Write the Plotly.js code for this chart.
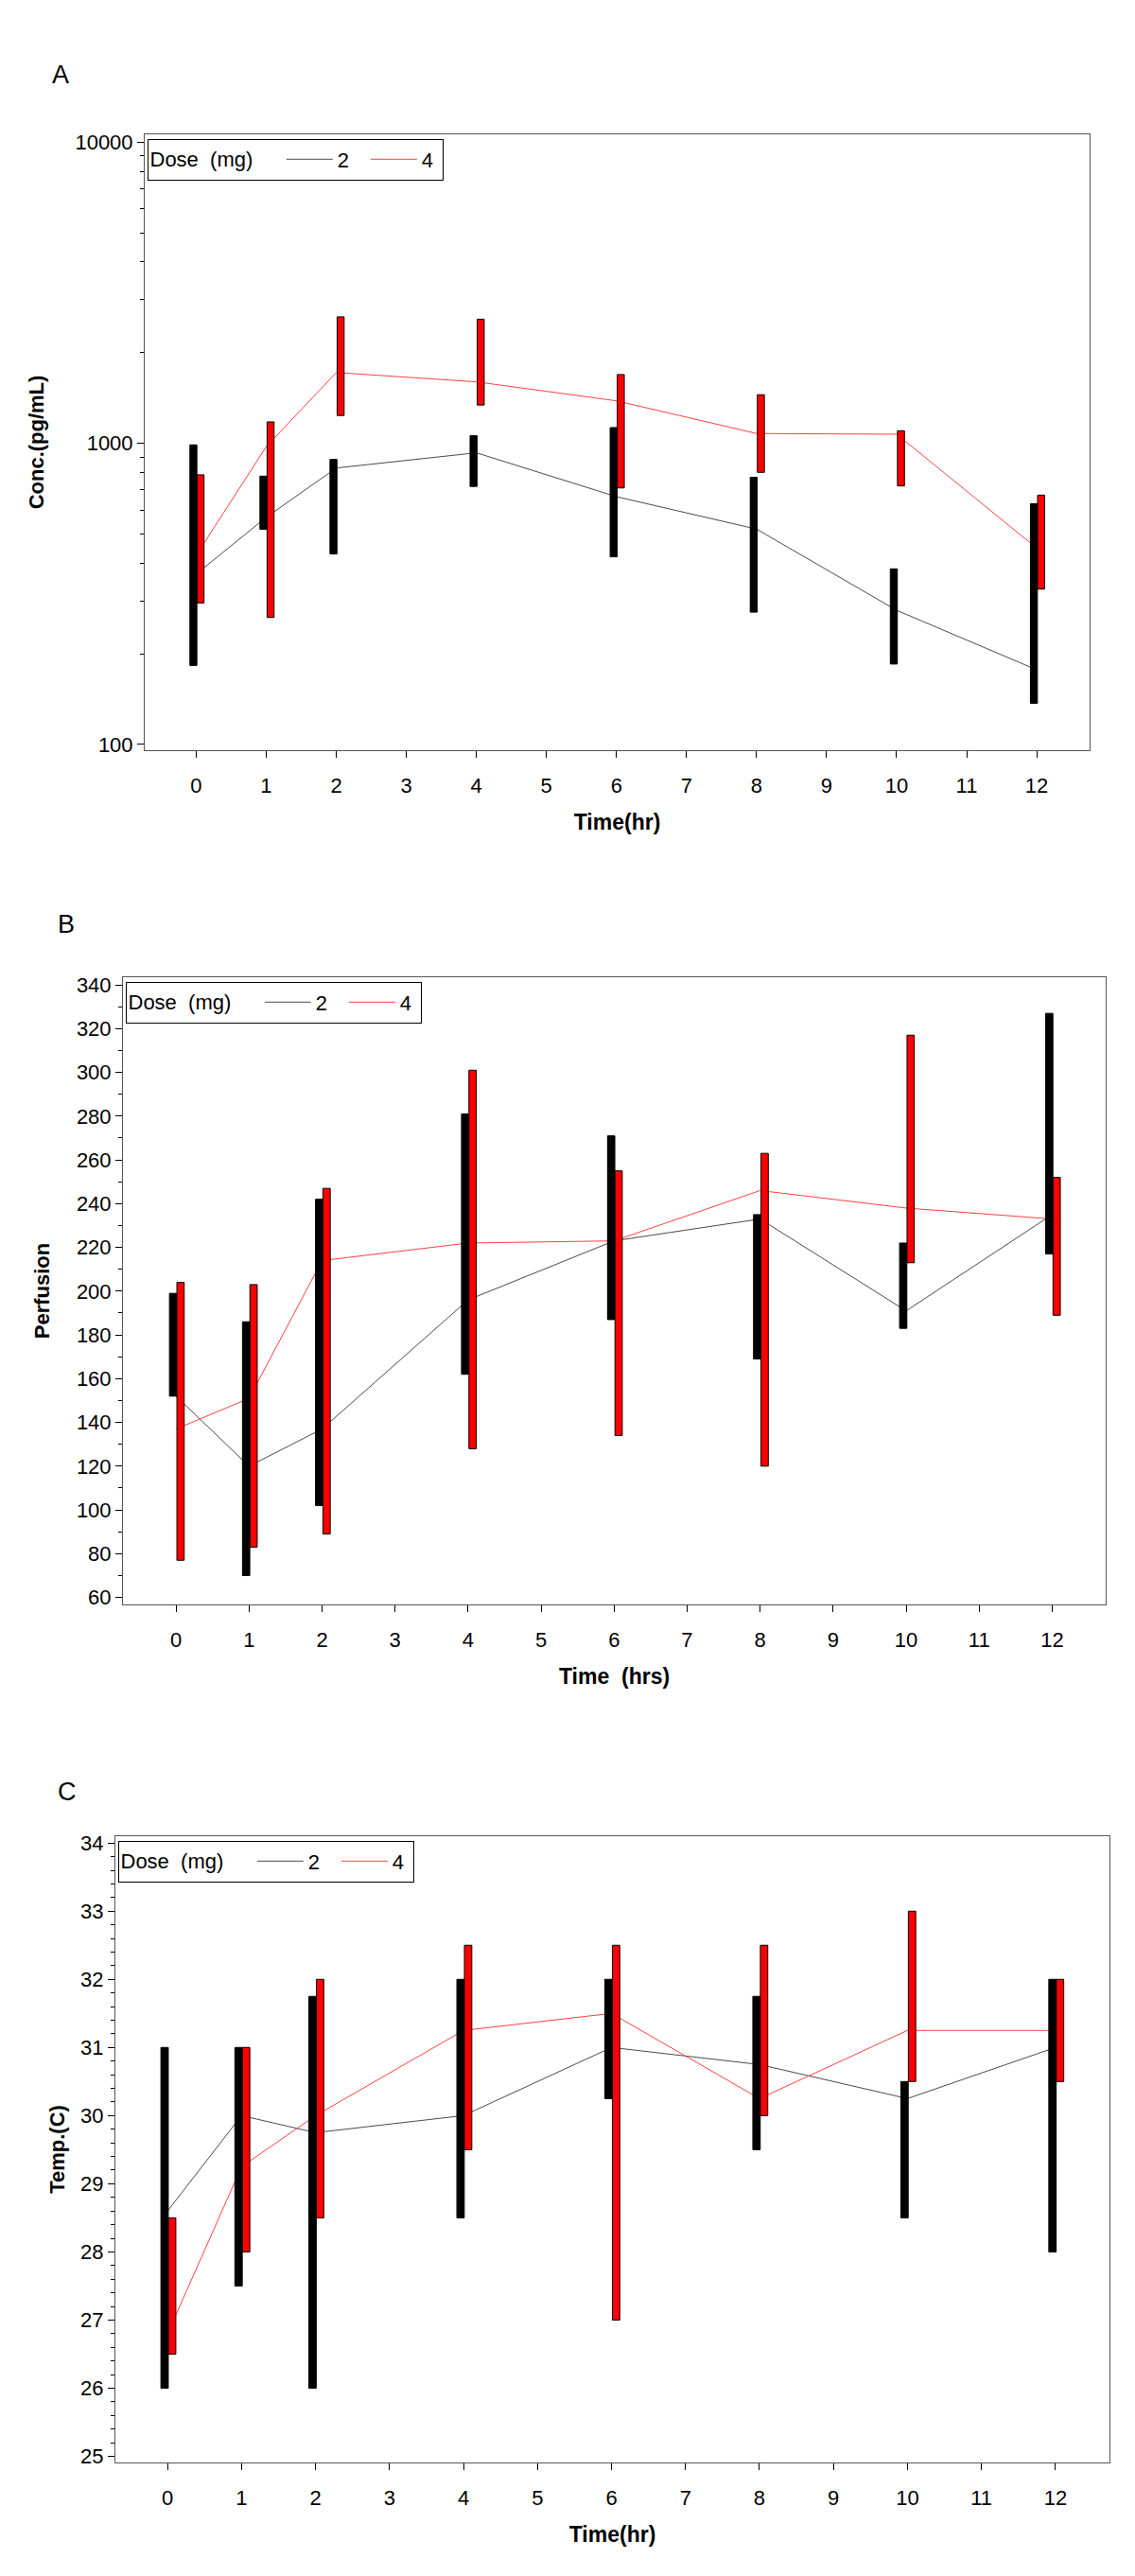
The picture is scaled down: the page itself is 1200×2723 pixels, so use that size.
<!DOCTYPE html>
<html>
<head>
<meta charset="utf-8">
<script src="https://cdn.plot.ly/plotly-3.0.1.min.js"></script>
<style>html,body{margin:0;padding:0;background:#fff;}#chart{width:1200px;height:2723px;}</style>
</head>
<body>
<div id="chart"></div>
<script>
// ---------- data ----------
const times = [0, 1, 2, 4, 6, 8, 10, 12];
const timeTicks = [0, 1, 2, 3, 4, 5, 6, 7, 8, 9, 10, 11, 12];
const doseNames = ['2', '4'];
const legendTitle = 'Dose\u00a0\u00a0(mg)';

// Panel A: concentration (pg/mL), log scale
const concMean2 = [368, 568, 828, 930, 665, 519, 279, 177];
const concLow2  = [183, 518, 429, 719, 420, 275, 185, 137];
const concHigh2 = [988, 778, 884, 1060, 1128, 771, 383, 630];
const concMean4 = [425, 975, 1718, 1600, 1384, 1078, 1072, 449];
const concLow4  = [295, 264, 1237, 1340, 711, 801, 722, 328];
const concHigh4 = [786, 1178, 2630, 2583, 1692, 1450, 1101, 673];
const concTickVals = [100, 1000, 10000];
const concTickText = ['100', '1000', '10000'];

// Panel B: perfusion
const perfMean2 = [152, 120, 137, 196, 223, 233, 191, 235];
const perfLow2  = [152, 70, 102, 162, 187, 169, 183, 217];
const perfHigh2 = [199, 186, 242, 281, 271, 235, 222, 327];
const perfMean4 = [137, 151, 214, 222, 223, 246, 238, 233];
const perfLow4  = [77, 83, 89, 128, 134, 120, 213, 189];
const perfHigh4 = [204, 203, 247, 301, 255, 263, 317, 252];

// Panel C: temperature (C)
const tempMean2 = [28.6, 30.0, 29.75, 30.0, 31.0, 30.75, 30.25, 31.0];
const tempLow2  = [26.0, 27.5, 26.0, 28.5, 30.25, 29.5, 28.5, 28.0];
const tempHigh2 = [31.0, 31.0, 31.75, 32.0, 32.0, 31.75, 30.5, 32.0];
const tempMean4 = [26.8, 29.25, 30.0, 31.25, 31.5, 30.25, 31.25, 31.25];
const tempLow4  = [26.5, 28.0, 28.5, 29.5, 27.0, 30.0, 30.5, 30.5];
const tempHigh4 = [28.5, 31.0, 32.0, 32.5, 32.5, 32.5, 33.0, 32.0];

// ---------- styling ----------
const FONT = 'Liberation Sans, Arial, Helvetica, sans-serif';
const H = 2723, W = 1200;
const COL2 = '#000000', COL4 = '#ff0000';
const LINE2 = '#4a4a4a', LINE4 = '#ff4040';

function span(a, b) { return b.map((v, i) => v - a[i]); }

function panelTraces(n, m2, lo2, hi2, m4, lo4, hi4) {
  const ax = n === 1 ? '' : String(n);
  const ov = String(n + 3);
  const leg = n === 1 ? 'legend' : 'legend' + n;
  return [
    { type: 'scatter', mode: 'lines', x: times, y: m2, name: doseNames[0],
      xaxis: 'x' + ax, yaxis: 'y' + ax, legend: leg,
      line: { color: LINE2, width: 1 } },
    { type: 'scatter', mode: 'lines', x: times, y: m4, name: doseNames[1],
      xaxis: 'x' + ax, yaxis: 'y' + ax, legend: leg, legendwidth: 16,
      line: { color: LINE4, width: 1 } },
    { type: 'bar', x: times, base: lo2, y: span(lo2, hi2), name: doseNames[0],
      xaxis: 'x' + ov, yaxis: 'y' + ov, showlegend: false,
      offset: -0.09, width: 0.1,
      marker: { color: COL2, line: { color: '#000', width: 1 } } },
    { type: 'bar', x: times, base: lo4, y: span(lo4, hi4), name: doseNames[1],
      xaxis: 'x' + ov, yaxis: 'y' + ov, showlegend: false,
      offset: 0.012, width: 0.1,
      marker: { color: COL4, line: { color: '#000', width: 1 } } }
  ];
}

const data = [].concat(
  panelTraces(1, concMean2, concLow2, concHigh2, concMean4, concLow4, concHigh4),
  panelTraces(2, perfMean2, perfLow2, perfHigh2, perfMean4, perfLow4, perfHigh4),
  panelTraces(3, tempMean2, tempLow2, tempHigh2, tempMean4, tempLow4, tempHigh4)
);

// panel geometry in pixels: [left, right, top, bottom]
const boxes = {
  1: [153, 1152, 142, 793],
  2: [130, 1169, 1033, 1696],
  3: [122, 1173, 1941, 2603]
};
const xRanges = { 1: [-0.735, 12.755], 2: [-0.727, 12.733], 3: [-0.705, 12.73] };
const yRanges = { 1: [1.981, 4.026], 2: [56.8, 343.5], 3: [24.91, 34.1] };
const xTitles = { 1: 'Time(hr)', 2: 'Time\u00a0\u00a0(hrs)', 3: 'Time(hr)' };
const yTitles = { 1: 'Conc.(pg/mL)', 2: 'Perfusion', 3: 'Temp.(C)' };
const yStandoff = { 1: 26, 2: 22, 3: 10 };

const logMinor = [];
[100, 1000].forEach(d => { for (let k = 2; k <= 9; k++) logMinor.push(k * d); });

const layout = {
  width: W, height: H,
  margin: { l: 0, r: 0, t: 0, b: 0, pad: 0 },
  paper_bgcolor: '#fff', plot_bgcolor: '#fff',
  font: { family: FONT, color: '#000', size: 22 },
  barmode: 'overlay',
  hovermode: false,
  annotations: [
    { text: 'A', x: 63.8 / W, y: 1 - 78.5 / H },
    { text: 'B', x: 70 / W, y: 1 - 976.7 / H },
    { text: 'C', x: 70.5 / W, y: 1 - 1894 / H }
  ].map(a => Object.assign(a, { xref: 'paper', yref: 'paper', showarrow: false,
      xanchor: 'center', yanchor: 'middle', font: { size: 27, family: FONT, color: '#000' } }))
};

[1, 2, 3].forEach(n => {
  const b = boxes[n];
  const ax = n === 1 ? '' : String(n);
  const ov = String(n + 3);
  const xd = [b[0] / W, b[1] / W];
  const yd = [1 - b[3] / H, 1 - b[2] / H];
  layout['xaxis' + ax] = {
    domain: xd, range: xRanges[n], anchor: 'y' + ax,
    tickmode: 'array', tickvals: timeTicks, ticktext: timeTicks.map(String),
    ticks: 'outside', ticklen: 7, tickwidth: 1, tickcolor: '#000',
    showline: true, mirror: true, linecolor: '#555', linewidth: 1,
    showgrid: false, zeroline: false,
    tickfont: { size: 22, family: FONT, color: '#000' },
    ticklabelstandoff: 11,
    title: { text: xTitles[n], standoff: 18, font: { size: 23, family: FONT, color: '#000', weight: 'bold' } }
  };
  const ya = {
    domain: yd, range: yRanges[n], anchor: 'x' + ax,
    ticks: 'outside', ticklen: 7, tickwidth: 1, tickcolor: '#000',
    showline: true, mirror: true, linecolor: '#555', linewidth: 1,
    showgrid: false, zeroline: false,
    tickfont: { size: 22, family: FONT, color: '#000' },
    title: { text: yTitles[n], standoff: yStandoff[n], font: { size: 22, family: FONT, color: '#000', weight: 'bold' } }
  };
  if (n === 1) {
    Object.assign(ya, { type: 'log', tickmode: 'array', tickvals: concTickVals, ticktext: concTickText,
      minor: { tickmode: 'array', tickvals: logMinor, ticks: 'outside', ticklen: 4, tickcolor: '#000', showgrid: false } });
  } else if (n === 2) {
    Object.assign(ya, { tickmode: 'linear', tick0: 60, dtick: 20,
      minor: { dtick: 10, ticks: 'outside', ticklen: 4, tickcolor: '#000', showgrid: false } });
  } else {
    Object.assign(ya, { tickmode: 'linear', tick0: 25, dtick: 1,
      minor: { dtick: 0.2, ticks: 'outside', ticklen: 4, tickcolor: '#000', showgrid: false } });
  }
  layout['yaxis' + ax] = ya;
  layout['xaxis' + ov] = { overlaying: 'x' + ax, range: xRanges[n], anchor: 'y' + ov, visible: false, fixedrange: true };
  layout['yaxis' + ov] = { overlaying: 'y' + ax, range: yRanges[n], anchor: 'x' + ov, visible: false,
    type: n === 1 ? 'log' : 'linear', fixedrange: true };

  const legKey = n === 1 ? 'legend' : 'legend' + n;
  layout[legKey] = {
    x: (b[0] + 2.5) / W, y: 1 - (b[2] + 4.5) / H, xanchor: 'left', yanchor: 'top',
    orientation: 'h', bgcolor: '#fff', bordercolor: '#000', borderwidth: 1,
    font: { size: 22, family: FONT, color: '#000' },
    title: { text: legendTitle + '<span style="font-size:27px">\u00a0\u00a0\u00a0</span>', side: 'left',
             font: { size: 22, family: FONT, color: '#000' } },
    itemwidth: 49, entrywidth: 25, entrywidthmode: 'pixels', traceorder: 'normal'
  };
});

Plotly.newPlot('chart', data, layout, { staticPlot: true, displayModeBar: false });
</script>
</body>
</html>
